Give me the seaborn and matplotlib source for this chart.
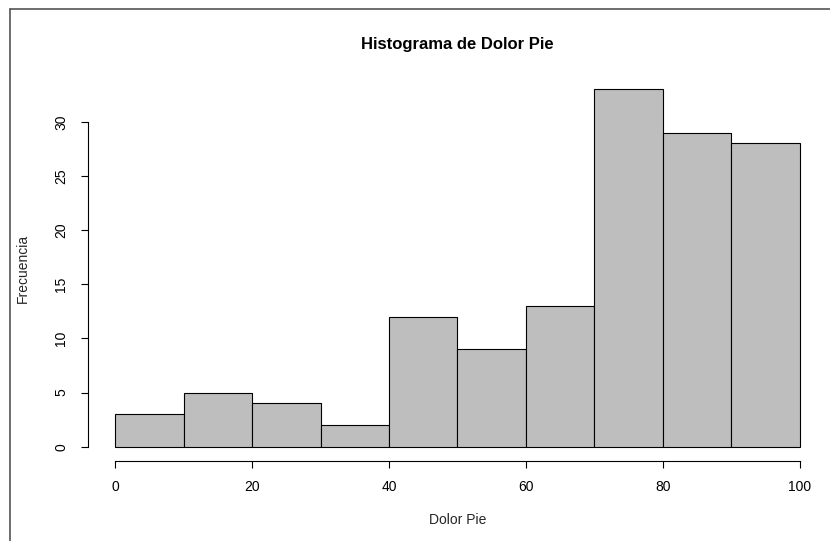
import numpy as np
import pandas as pd
import matplotlib
matplotlib.use("Agg")
import matplotlib.pyplot as plt
import seaborn as sns
from matplotlib.lines import Line2D

# histogram values
bin_edges = [0, 10, 20, 30, 40, 50, 60, 70, 80, 90, 100]
counts = [3, 5, 4, 2, 12, 9, 13, 33, 29, 28]
x_ticks = [0, 20, 40, 60, 80, 100]
y_ticks = [0, 5, 10, 15, 20, 25, 30]

sns.set_style("white")
plt.rcParams["font.family"] = ["Liberation Sans", "DejaVu Sans"]

df = pd.DataFrame({
    "Dolor Pie": [(bin_edges[i] + bin_edges[i + 1]) / 2 for i in range(len(counts))],
    "n": counts,
})

W, H = 830, 541
fig = plt.figure(figsize=(W / 100, H / 100), dpi=100)
ax = fig.add_axes([87.9 / W, 1 - 461 / H, (827 - 87.9) / W, (461 - 75) / H])

sns.histplot(data=df, x="Dolor Pie", weights="n", bins=bin_edges, ax=ax,
             color="#bebebe", edgecolor="black", linewidth=0.8, alpha=1)

ax.set_xlim(-4, 104)
ax.set_ylim(-1.32, 34.32)
ax.set_xticks(x_ticks)
ax.set_yticks(y_ticks)
ax.set_yticklabels([str(v) for v in y_ticks], rotation=90, va="center")
for s in ["top", "right"]:
    ax.spines[s].set_visible(False)
ax.spines["left"].set_bounds(0, 30)
ax.spines["bottom"].set_bounds(0, 100)
for s in ["left", "bottom"]:
    ax.spines[s].set_color("black")
    ax.spines[s].set_linewidth(0.8)
ax.tick_params(direction="out", length=5, width=0.8, labelsize=10,
               left=True, bottom=True, colors="black", pad=9)

ax.set_title("Histograma de Dolor Pie", fontsize=12, fontweight="bold", pad=19,
             color="black")
ax.set_xlabel("Dolor Pie", fontsize=10, labelpad=13)
ax.set_ylabel("Frecuencia", fontsize=10, labelpad=18)

# frame of the screenshot
fig.add_artist(Line2D([10 / W, 10 / W], [0, 1 - 9 / H], color="#555555", lw=1.2))
fig.add_artist(Line2D([10 / W, 1], [1 - 9 / H, 1 - 9 / H], color="#555555", lw=1.2))

fig.savefig("out.png", dpi=100)
